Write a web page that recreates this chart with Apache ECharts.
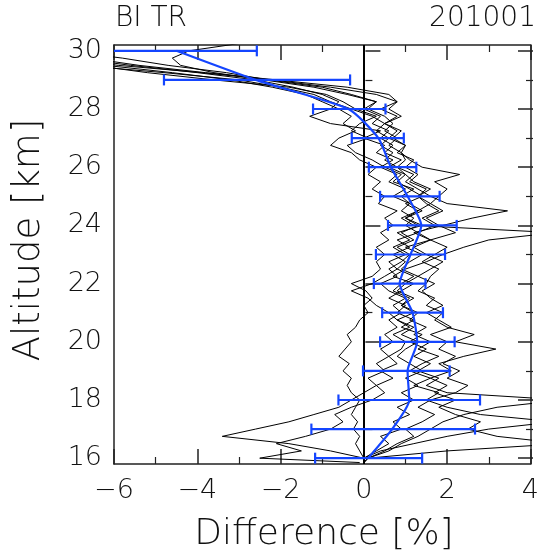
<!DOCTYPE html>
<html><head><meta charset="utf-8">
<script src="https://cdn.jsdelivr.net/npm/echarts@6/dist/echarts.min.js"></script>
<style>html,body{margin:0;padding:0;background:#fff}#c{width:542px;height:555px}</style>
</head><body><div id="c"></div>
<script>
// Altitude levels of the individual profiles [km]
const ALT = [15.85, 16, 16.25, 16.5, 16.75, 17, 17.25, 17.5, 17.75, 18, 18.25, 18.5, 18.75, 19, 19.25, 19.5, 19.75,
  20, 20.25, 20.5, 20.75, 21, 21.25, 21.5, 21.75, 22, 22.25, 22.5, 22.75, 23, 23.25, 23.5, 23.75,
  24, 24.25, 24.5, 24.75, 25, 25.25, 25.5, 25.75, 26, 26.25, 26.5, 26.75, 27, 27.25, 27.5, 27.75,
  28, 28.25, 28.5, 28.75, 29, 29.25, 29.5, 29.75, 30, 30.25];

// Individual difference profiles [%]
const P1 = [0.0, 0.0, -0.1, -0.2, -0.1, -0.25, -0.15, -0.3, -0.2, -0.1, -0.3,
  -0.4, -0.3, -0.5, -0.35, -0.6, -0.45, -0.3, -0.4, -0.2, -0.1,
  0.1, 0.0, 0.2, 0.05, -0.3, 0.2, 0.4, 0.3, 0.5, 0.3,
  0.6, 0.4, 0.7, 0.5, 0.8, 0.35, 0.5, 0.2, 0.4, 0.1,
  0.3, -0.1, -0.3, -0.8, -0.6, -0.2, -0.5, -0.3, -0.6, -1.0,
  -1.4, -2.2, -3.2, -4.6, -6.2, -7.5, -8.5, -9.0];
const P2 = [0.0, 0.1, 0.6, 0.9, 1.3, 1.6, 1.9, 2.4, 3.2, 4.8, 2.0,
  1.5, 1.8, 1.3, 1.6, 1.2, 1.5, 1.1, 1.4, 0.9, 1.2,
  0.8, 1.0, 0.6, 0.9, 1.2, 0.7, 1.0, 1.5, 1.9, 2.4,
  3.0, 4.6, 1.2, 0.9, 1.3, 1.0, 1.4, 1.1, 0.8, 1.0,
  0.6, 0.9, 0.5, 0.7, 0.4, 0.6, 0.2, 0.4, 0.0, 0.3,
  -0.4, -1.2, -2.4, -3.6, -4.4, -4.6, -4.2, -3.0];
const P3 = [0.0, 0.0, 0.4, 1.2, 2.0, 3.0, 4.6, 2.8, 2.0, 1.5, 1.8,
  1.2, 1.6, 1.1, 1.4, 1.8, 1.3, 1.6, 1.2, 1.5, 1.1,
  1.3, 0.9, 1.2, 0.8, 1.0, 1.3, 0.9, 1.1, 1.4, 1.0,
  1.6, 1.2, 1.9, 2.6, 3.45, 2.0, 1.6, 1.3, 1.0, 1.2,
  0.8, 0.5, 0.7, 0.4, 0.6, 0.3, 0.5, 0.2, -0.3, -0.8,
  -1.2, -2.0, -3.0, -4.8, -6.8, -8.0, -9.0, -9.0];
const P4 = [0.0, 0.1, 2.0, 4.8, 3.2, 2.5, 2.8, 2.2, 1.8, 2.2, 1.7,
  2.0, 1.6, 2.1, 1.8, 2.4, 3.17, 2.2, 2.65, 2.0, 1.7,
  1.9, 1.5, 1.7, 1.3, 1.5, 1.6, 1.8, 1.4, 1.7, 2.0,
  1.6, 2.2, 1.8, 1.5, 1.9, 1.6, 1.3, 1.5, 1.1, 1.3,
  1.0, 1.2, 0.8, 1.0, 0.7, 0.9, 0.5, 0.8, 0.4, 0.8,
  0.6, -0.4, -2.1, -3.8, -5.4, -6.6, -8.0, -9.0];
const P5 = [0.0, 0.0, -0.8, -1.8, -3.4, -2.6, -1.8, -1.2, -0.6, -0.3, 0.0,
  0.3, 0.1, 0.5, 0.3, 0.6, 0.4, 0.7, 0.5, 0.8, 0.6,
  0.9, 0.7, 1.0, 0.6, 0.4, 0.8, 0.6, 0.9, 1.1, 0.8,
  1.2, 0.9, 1.3, 1.0, 1.4, 1.1, 0.9, 1.2, 0.7, 0.9,
  0.5, 0.2, -0.2, -0.4, 0.1, -0.3, -0.1, 0.3, -0.2, -0.5,
  -0.9, -1.8, -3.6, -5.2, -6.5, -8.0, -9.0, -9.0];
const P6 = [-0.1, -2.5, -1.5, -2.1, -1.4, -0.8, -0.5, -0.7, -0.3, 0.2, 0.5,
  0.3, 0.7, 0.4, 0.8, 0.6, 0.9, 1.0, 0.7, 1.1, 0.8,
  1.2, 0.9, 1.1, 0.7, 0.9, 1.2, 0.8, 1.0, 0.7, 1.1,
  0.8, 1.3, 1.0, 1.2, 0.9, 1.1, 0.7, 1.0, 0.6, 0.8,
  0.4, 0.7, 0.3, 0.5, 0.0, 0.4, -0.8, -1.3, -0.8, -0.6,
  -1.0, -1.7, -2.6, -4.0, -5.6, -6.9, -8.0, -9.0];
const P7 = [0.0, 0.1, 0.5, 0.8, 1.2, 1.0, 1.4, 1.7, 1.3, 1.6, 2.2,
  2.5, 2.0, 2.3, 1.9, 2.2, 1.8, 2.0, 1.6, 2.1, 1.8,
  1.5, 1.9, 1.6, 1.4, 1.7, 1.3, 1.6, 1.9, 1.5, 1.2,
  1.6, 1.3, 1.7, 1.4, 1.8, 1.5, 1.3, 1.6, 1.2, 1.0,
  0.8, 1.0, 0.9, 0.6, 0.8, 0.5, 0.7, 0.5, 0.1, 0.3,
  -0.3, -1.0, -2.3, -3.3, -4.7, -5.8, -7.2, -8.0];
const P8 = [0.0, 0.0, 0.3, 0.6, 0.4, 0.9, 0.7, 1.1, 0.8, 1.2, 0.9,
  1.3, 1.0, 1.4, 1.1, 0.8, 1.0, 1.3, 0.9, 1.2, 0.8,
  0.6, 0.3, 0.1, -0.3, 0.2, 0.5, 0.8, 0.6, 1.0, 0.7,
  1.1, 0.8, 1.4, 1.0, 1.3, 1.6, 1.8, 2.0, 1.7, 2.3,
  1.4, 1.1, 0.9, 1.0, 0.6, 0.8, 0.5, 0.9, 0.6, 0.8,
  0.3, -0.8, -2.2, -3.9, -5.9, -7.2, -8.5, -9.0];
const PROFILES = [P1, P2, P3, P4, P5, P6, P7, P8];

// Mean profile and error bar ends
const MEAN_ALT = [16, 17, 18, 19, 20, 21, 22, 23, 24, 25, 26, 27, 28, 29, 30];
const MEAN     = [0.1, 0.68, 1.09, 1.05, 1.28, 1.17, 0.86, 1.12, 1.38, 1.05, 0.65, 0.35, -0.37, -2.6, -4.5];
const ERR_LO   = [-1.17, -1.26, -0.61, -0.02, 0.39, 0.44, 0.24, 0.29, 0.58, 0.39, 0.12, -0.29, -1.22, -4.8, -6.4];
const ERR_HI   = [1.4, 2.67, 2.79, 2.06, 2.18, 1.9, 1.48, 1.95, 2.23, 1.82, 1.26, 0.96, 0.52, -0.33, -2.57];

// Axes / text
const X_MIN = -6, X_MAX = 4, X_STEP = 2;
const Y_MIN = 15.8, Y_MAX = 30.2, Y_TICK_MIN = 16, Y_TICK_MAX = 30, Y_STEP = 2;
const TITLE_LEFT = 'BI TR', TITLE_RIGHT = '201001';
const X_NAME = 'Difference [%]', Y_NAME = 'Altitude [km]';

const BLUE = '#1445ff';
const AX = '#222';
const FONT = 'DejaVu Sans';
const GL = 114, GR = 9, GT = 45, GB = 91;
const H = 555 - GT - GB;
const PPU = H / (Y_MAX - Y_MIN);
const G1T = GT + (Y_MAX - Y_TICK_MAX) * PPU;
const G1B = GB + (Y_TICK_MIN - Y_MIN) * PPU;

const chart = echarts.init(document.getElementById('c'), null, {renderer: 'canvas'});

const tickX = (pos, labels) => ({
  type: 'value', gridIndex: 0, position: pos, min: X_MIN, max: X_MAX, interval: X_STEP,
  axisLine: {show: true, onZero: false, lineStyle: {color: AX, width: 1.5}},
  axisTick: {show: true, inside: true, length: 15, lineStyle: {color: AX, width: 1.5}},
  minorTick: {show: true, splitNumber: 2, length: 7, lineStyle: {color: AX, width: 1.2}},
  splitLine: {show: false},
  axisLabel: {show: labels, fontSize: 27, color: '#111', margin: 13, fontFamily: FONT, fontWeight: 200,
    formatter: v => (v < 0 ? '\u2212' + Math.abs(v) : String(v))}
});
const frameY = pos => ({
  type: 'value', gridIndex: 0, position: pos, min: Y_MIN, max: Y_MAX,
  axisLine: {show: true, onZero: false, lineStyle: {color: AX, width: 1.5}},
  axisTick: {show: false}, axisLabel: {show: false}, splitLine: {show: false}
});
const tickY = (pos, labels) => ({
  type: 'value', gridIndex: 1, position: pos, min: Y_TICK_MIN, max: Y_TICK_MAX, interval: Y_STEP,
  axisLine: {show: false},
  axisTick: {show: true, inside: true, length: 15, lineStyle: {color: AX, width: 1.5}},
  minorTick: {show: true, splitNumber: 2, length: 7, lineStyle: {color: AX, width: 1.2}},
  splitLine: {show: false},
  axisLabel: {show: labels, fontSize: 27, color: '#111', margin: 12, fontFamily: FONT, fontWeight: 200}
});

const series = PROFILES.map((p, k) => ({
  type: 'line', xAxisIndex: 0, yAxisIndex: 0, showSymbol: false, symbol: 'none',
  data: p.map((x, i) => [x, ALT[i]]), clip: true, z: 2,
  lineStyle: {color: '#000', width: 1}, silent: true, animation: false,
  markLine: k === 0 ? {symbol: 'none', silent: true, label: {show: false},
    lineStyle: {color: '#000', width: 2, type: 'solid'}, data: [{xAxis: 0}]} : undefined
}));

series.push({
  type: 'line', xAxisIndex: 0, yAxisIndex: 0, showSymbol: false, symbol: 'none', smooth: 0.2,
  data: MEAN.map((x, i) => [x, MEAN_ALT[i]]), clip: true, z: 5,
  lineStyle: {color: BLUE, width: 2.2}, animation: false
});
series.push({
  type: 'custom', xAxisIndex: 0, yAxisIndex: 0, clip: true, z: 6, animation: false,
  data: MEAN_ALT.map((a, i) => [a, ERR_LO[i], ERR_HI[i]]),
  encode: {x: [1, 2], y: 0},
  renderItem: (params, api) => {
    const y = api.value(0);
    const p1 = api.coord([api.value(1), y]);
    const p2 = api.coord([api.value(2), y]);
    const h = 5.5;
    const st = {stroke: BLUE, lineWidth: 2.2};
    return {type: 'group', children: [
      {type: 'line', shape: {x1: p1[0], y1: p1[1], x2: p2[0], y2: p2[1]}, style: st},
      {type: 'line', shape: {x1: p1[0], y1: p1[1] - h, x2: p1[0], y2: p1[1] + h}, style: st},
      {type: 'line', shape: {x1: p2[0], y1: p2[1] - h, x2: p2[0], y2: p2[1] + h}, style: st}
    ]};
  }
});

chart.setOption({
  backgroundColor: '#fff',
  animation: false,
  grid: [
    {left: GL, right: GR, top: GT, bottom: GB, containLabel: false},
    {left: GL, right: GR, top: G1T, bottom: G1B, containLabel: false}
  ],
  xAxis: [
    tickX('bottom', true),
    tickX('top', false),
    {type: 'value', gridIndex: 1, min: X_MIN, max: X_MAX, show: false}
  ],
  yAxis: [
    frameY('left'), frameY('right'),
    tickY('left', true), tickY('right', false)
  ],
  graphic: [
    {type: 'text', left: 115, top: 5, style: {text: TITLE_LEFT, fontSize: 28, fontFamily: FONT, fontWeight: 200, fill: '#111'}},
    {type: 'text', right: 6, top: 5, style: {text: TITLE_RIGHT, fontSize: 28, fontFamily: FONT, fontWeight: 200, fill: '#111'}},
    {type: 'text', position: [324, 535],
     style: {text: X_NAME, fontSize: 36, fontFamily: FONT, fontWeight: 200, fill: '#111', textAlign: 'center', textVerticalAlign: 'middle'}},
    {type: 'text', rotation: Math.PI / 2, position: [29, 240],
     style: {text: Y_NAME, fontSize: 37, fontFamily: FONT, fontWeight: 200, fill: '#111', textAlign: 'center', textVerticalAlign: 'middle'}}
  ],
  series
});
</script></body></html>
